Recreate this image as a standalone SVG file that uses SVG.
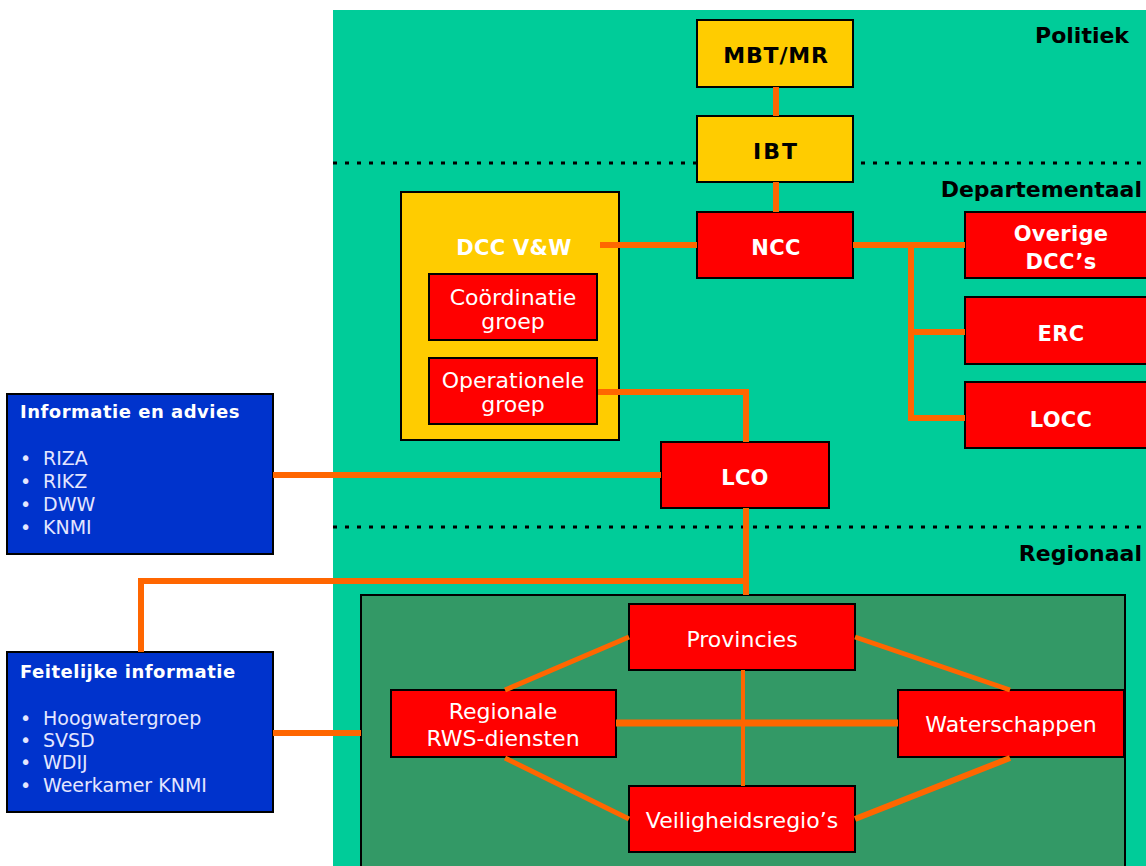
<svg xmlns="http://www.w3.org/2000/svg" width="1146" height="866" viewBox="0 0 1146 866">
<style>
.box{stroke:#000;stroke-width:2}
.y{fill:#FFCC00}
.r{fill:#FF0000}
.b{fill:#0033CC}
.c{stroke:#FF6600;stroke-width:6;fill:none}
.dot{stroke:#000;stroke-width:3;stroke-dasharray:4 8}
text{font-family:"DejaVu Sans","Verdana",sans-serif}
.bl{font-size:22px;font-weight:bold;fill:#000}
.wb{font-size:21px;font-weight:bold;fill:#fff;text-anchor:middle;letter-spacing:0.3px}
.wr{font-size:22px;fill:#fff;text-anchor:middle}
.ht{font-size:18px;font-weight:bold;fill:#fff;letter-spacing:0.5px}
.li{font-size:19px;fill:#E4E6FF}
</style>
<rect x="333" y="10" width="813" height="856" fill="#00CC99"/>
<line class="dot" x1="333" y1="163" x2="1146" y2="163"/>
<line class="dot" x1="333" y1="527" x2="1146" y2="527"/>
<text class="bl" x="1129" y="43" text-anchor="end">Politiek</text>
<text class="bl" x="1142" y="197" text-anchor="end">Departementaal</text>
<text class="bl" x="1142" y="561" text-anchor="end">Regionaal</text>

<g id="regionaal-vlak"><rect class="box" x="361" y="595" width="764" height="285" fill="#339966"/></g>

<g id="mbt"><rect class="box y" x="697" y="20" width="156" height="67"/><text class="bl" x="776" y="63" text-anchor="middle" style="letter-spacing:0.8px">MBT/MR</text></g>
<g id="ibt"><rect class="box y" x="697" y="116" width="156" height="66"/><text class="bl" x="776" y="159" text-anchor="middle" style="letter-spacing:2px">IBT</text></g>
<g id="dcc"><rect class="box y" x="401" y="192" width="218" height="248"/><text class="wb" x="514" y="255">DCC V&amp;W</text></g>
<g id="coordinatie"><rect class="box r" x="429" y="274" width="168" height="66"/><text class="wr" x="513" y="305">Coördinatie</text><text class="wr" x="513" y="329">groep</text></g>
<g id="operationele"><rect class="box r" x="429" y="358" width="168" height="66"/><text class="wr" x="513" y="388">Operationele</text><text class="wr" x="513" y="412">groep</text></g>
<g id="ncc"><rect class="box r" x="697" y="212" width="156" height="66"/><text class="wb" x="776" y="255">NCC</text></g>
<g id="overige"><rect class="box r" x="965" y="212" width="192" height="66"/><text class="wb" x="1061" y="241">Overige</text><text class="wb" x="1061" y="269">DCC’s</text></g>
<g id="erc"><rect class="box r" x="965" y="297" width="192" height="67"/><text class="wb" x="1061" y="341">ERC</text></g>
<g id="locc"><rect class="box r" x="965" y="382" width="192" height="66"/><text class="wb" x="1061" y="427">LOCC</text></g>
<g id="lco"><rect class="box r" x="661" y="442" width="168" height="66"/><text class="wb" x="745" y="485">LCO</text></g>
<g id="info"><rect class="box b" x="7" y="394" width="266" height="160"/>
<text class="ht" x="20" y="418">Informatie en advies</text>
<text class="li" x="20" y="465">•</text><text class="li" x="43" y="465">RIZA</text>
<text class="li" x="20" y="488">•</text><text class="li" x="43" y="488">RIKZ</text>
<text class="li" x="20" y="511">•</text><text class="li" x="43" y="511">DWW</text>
<text class="li" x="20" y="534">•</text><text class="li" x="43" y="534">KNMI</text></g>
<g id="feitelijk"><rect class="box b" x="7" y="652" width="266" height="160"/>
<text class="ht" x="20" y="678">Feitelijke informatie</text>
<text class="li" x="20" y="725">•</text><text class="li" x="43" y="725">Hoogwatergroep</text>
<text class="li" x="20" y="747">•</text><text class="li" x="43" y="747">SVSD</text>
<text class="li" x="20" y="769">•</text><text class="li" x="43" y="769">WDIJ</text>
<text class="li" x="20" y="792">•</text><text class="li" x="43" y="792">Weerkamer KNMI</text></g>
<g id="provincies"><rect class="box r" x="629" y="604" width="226" height="66"/><text class="wr" x="742" y="647">Provincies</text></g>
<g id="rws"><rect class="box r" x="391" y="690" width="225" height="67"/><text class="wr" x="503" y="719">Regionale</text><text class="wr" x="503" y="746">RWS-diensten</text></g>
<g id="waterschappen"><rect class="box r" x="898" y="690" width="226" height="67"/><text class="wr" x="1011" y="732">Waterschappen</text></g>
<g id="veiligheid"><rect class="box r" x="629" y="786" width="226" height="66"/><text class="wr" x="742" y="828">Veiligheidsregio’s</text></g>

<g id="connectors">
<line class="c" x1="776" y1="87" x2="776" y2="116"/>
<line class="c" x1="776" y1="182" x2="776" y2="212"/>
<line class="c" x1="600" y1="245" x2="697" y2="245"/>
<line class="c" x1="853" y1="245" x2="965" y2="245"/>
<polyline class="c" points="911,245 911,418 965,418"/>
<line class="c" x1="911" y1="332" x2="965" y2="332"/>
<polyline class="c" points="598,392 746,392 746,442"/>
<line class="c" x1="273" y1="475" x2="661" y2="475"/>
<line class="c" x1="746" y1="508" x2="746" y2="595"/>
<polyline class="c" points="749,581 141,581 141,652"/>
<line class="c" x1="273" y1="733" x2="361" y2="733"/>
<line class="c" x1="505" y1="690" x2="629" y2="637" style="stroke-width:5"/>
<line class="c" x1="855" y1="637" x2="1010" y2="690" style="stroke-width:5"/>
<line class="c" x1="505" y1="758" x2="629" y2="819" style="stroke-width:5"/>
<line class="c" x1="1010" y1="758" x2="855" y2="819" style="stroke-width:6"/>
<line class="c" x1="743" y1="670" x2="743" y2="786" style="stroke-width:4"/>
<line class="c" x1="616" y1="723" x2="898" y2="723" style="stroke-width:7"/>
</g>
</svg>
